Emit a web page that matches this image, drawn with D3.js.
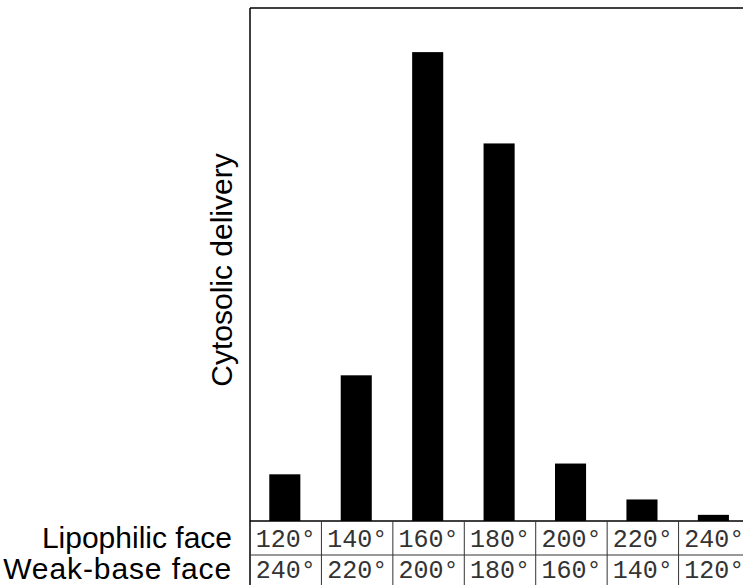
<!DOCTYPE html>
<html>
<head>
<meta charset="utf-8">
<script src="https://cdn.jsdelivr.net/npm/d3@7"></script>
<style>
body { margin: 0; background: #fff; }
svg { display: block; }
</style>
</head>
<body>
<svg id="chart" width="743" height="585"></svg>
<script>
// values (arbitrary units, top of frame = 100)
let lipophilic = ['120°', '140°', '160°', '180°', '200°', '220°', '240°'];
let weakBase = ['240°', '220°', '200°', '180°', '160°', '140°', '120°'];
let delivery = [9.1, 28.4, 91.4, 73.6, 11.2, 4.2, 1.2];
let rowLabels = ['Lipophilic face', 'Weak-base face'];

let svg = d3.select('#chart');
let margin = {top: 8, left: 250};
let plotW = 500, plotH = 513;
let rowH = 34;

let g = svg.append('g').attr('transform', 'translate(' + margin.left + ',' + margin.top + ')');

let x = d3.scaleBand().domain(d3.range(lipophilic.length)).range([0, plotW]).padding(0);
let y = d3.scaleLinear().domain([0, 100]).range([plotH, 0]);

// bars
g.selectAll('rect.bar')
	.data(delivery)
	.enter().append('rect')
	.attr('class', 'bar')
	.attr('x', (d, i) => x(i) + x.bandwidth() * 0.27)
	.attr('width', x.bandwidth() * 0.435)
	.attr('y', d => y(d))
	.attr('height', d => y(0) - y(d))
	.style('fill', '#000');

// frame
g.append('line').attr('x1', 0).attr('x2', plotW).attr('y1', 0).attr('y2', 0)
	.style('stroke', '#000').style('stroke-width', 1.5);
g.append('line').attr('x1', 0).attr('x2', 0).attr('y1', 0).attr('y2', plotH + rowH * 2 + 5)
	.style('stroke', '#000').style('stroke-width', 1.5);

// table under the axis
let table = g.append('g').attr('transform', 'translate(0,' + plotH + ')');
[0, rowH, rowH * 2].forEach(yy => {
	table.append('line').attr('x1', 0).attr('x2', plotW).attr('y1', yy).attr('y2', yy)
		.style('stroke', yy === 0 ? '#000' : '#333').style('stroke-width', yy === 0 ? 1.5 : 1);
});
table.selectAll('line.col')
	.data(d3.range(1, lipophilic.length + 1))
	.enter().append('line')
	.attr('class', 'col')
	.attr('x1', i => (i < lipophilic.length ? x(i) : plotW))
	.attr('x2', i => (i < lipophilic.length ? x(i) : plotW))
	.attr('y1', 0)
	.attr('y2', rowH * 2 + 5)
	.style('stroke', '#333').style('stroke-width', 1);

let cellBase = [26, 57];
let labelBase = [548, 579];
[lipophilic, weakBase].forEach((row, r) => {
	table.selectAll('text.r' + r)
		.data(row)
		.enter().append('text')
		.attr('class', 'r' + r)
		.attr('x', (d, i) => x(i) + x.bandwidth() / 2)
		.attr('y', cellBase[r])
		.style('text-anchor', 'middle')
		.style('font-family', '"Liberation Mono", "DejaVu Sans Mono", monospace')
		.style('font-size', '25px')
		.style('fill', '#333')
		.text(d => d);

	svg.append('text')
		.attr('x', 232)
		.attr('y', labelBase[r])
		.style('text-anchor', 'end')
		.style('font-family', '"Liberation Sans", Arial, sans-serif')
		.style('font-size', '30px')
		.style('letter-spacing', r === 1 ? '0.9px' : '0px')
		.style('fill', '#000')
		.text(rowLabels[r]);
});

// y label
svg.append('text')
	.attr('transform', 'translate(232,270) rotate(-90)')
	.style('text-anchor', 'middle')
	.style('font-family', '"Liberation Sans", Arial, sans-serif')
	.style('font-size', '30px')
	.style('fill', '#000')
	.text('Cytosolic delivery');
</script>
</body>
</html>
